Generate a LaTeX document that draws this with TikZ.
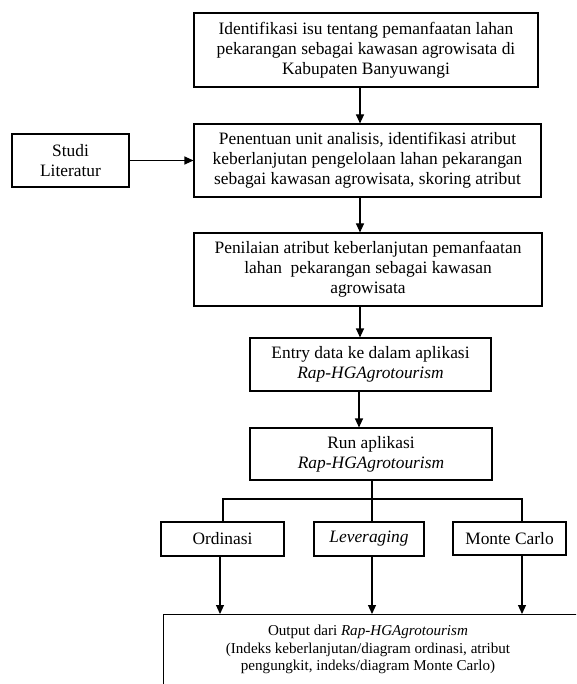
\documentclass[tikz,border=0pt]{standalone}
\usepackage{fontspec}
\setmainfont{Liberation Serif}
\usetikzlibrary{arrows.meta,calc}
\begin{document}
\begin{tikzpicture}[x=1pt,y=-1pt,
  box/.style={draw,line width=1.1pt,inner sep=0pt,align=center,font=\rmfamily\fontsize{17.4}{20}\selectfont},
  smalltext/.style={inner sep=0pt,align=center,font=\rmfamily\fontsize{15.1}{17.5}\selectfont},
  arr/.style={line width=1.1pt,-{Triangle[length=9pt,width=8pt]}},
  ln/.style={line width=1.1pt}]
\useasboundingbox (0,0) rectangle (576,684);
\fill[white] (0,0) rectangle (576,684);
\clip (0,0) rectangle (576,684);
% main column
\node[box,minimum width=344,minimum height=74] (b1) at (366,50)
  {Identifikasi isu tentang pemanfaatan lahan\\pekarangan sebagai kawasan agrowisata di\\Kabupaten Banyuwangi};
\node[box,minimum width=347,minimum height=73] (b2) at (367.5,160.5)
  {Penentuan unit analisis, identifikasi atribut\\keberlanjutan pengelolaan lahan pekarangan\\sebagai kawasan agrowisata, skoring atribut};
\node[box,minimum width=117,minimum height=53] (studi) at (70.5,160.5)
  {Studi\\Literatur};
\node[box,minimum width=348,minimum height=73] (b3) at (368,269.5)
  {Penilaian atribut keberlanjutan pemanfaatan\\lahan\ \ pekarangan sebagai kawasan\\agrowisata};
\node[box,minimum width=241,minimum height=53] (b4) at (370.5,364.5)
  {Entry data ke dalam aplikasi\\\textit{Rap-HGAgrotourism}};
\node[box,minimum width=242,minimum height=52] (b5) at (371,454)
  {Run aplikasi\\\textit{Rap-HGAgrotourism}};
% branches
\node[box,minimum width=123,minimum height=34] (ord) at (222.5,539) {Ordinasi};
\node[box,minimum width=110,minimum height=34] (lev) at (369,539) {\textit{Leveraging}};
\node[box,minimum width=113,minimum height=33] (mc) at (509.5,538.5) {Monte Carlo};
% output
\node[draw,line width=1.1pt,inner sep=0pt,minimum width=480,minimum height=120,anchor=north west] (out) at (163,614) {};
\node[smalltext] (outtxt) at (368,649.5)
  {Output dari \textit{Rap-HGAgrotourism}\\(Indeks keberlanjutan/diagram ordinasi, atribut\\pengungkit, indeks/diagram Monte Carlo)};
% helper coordinates
\coordinate (a1) at (360,0);
\coordinate (a2) at (359,0);
\coordinate (j) at (372,499);
\coordinate (jl) at (223,499);
\coordinate (jr) at (522,499);
\coordinate (d1) at (220,0);
\coordinate (d2) at (372,0);
\coordinate (d3) at (522,0);
% connectors
\draw[arr] (b1.south -| a1) -- (b2.north -| a1);
\draw[arr] (b2.south -| a1) -- (b3.north -| a1);
\draw[arr] (b3.south -| a1) -- (b4.north -| a1);
\draw[arr] (b4.south -| a2) -- (b5.north -| a2);
\draw[arr] (studi.east) -- (b2.west);
\draw[ln] (b5.south -| j) -- (lev.north -| j);
\draw[ln] (ord.north -| jl) -- (jl) -- (jr) -- (mc.north -| jr);
\draw[arr] (ord.south -| d1) -- (out.north -| d1);
\draw[arr] (lev.south -| d2) -- (out.north -| d2);
\draw[arr] (mc.south -| d3) -- (out.north -| d3);
\end{tikzpicture}
\end{document}
